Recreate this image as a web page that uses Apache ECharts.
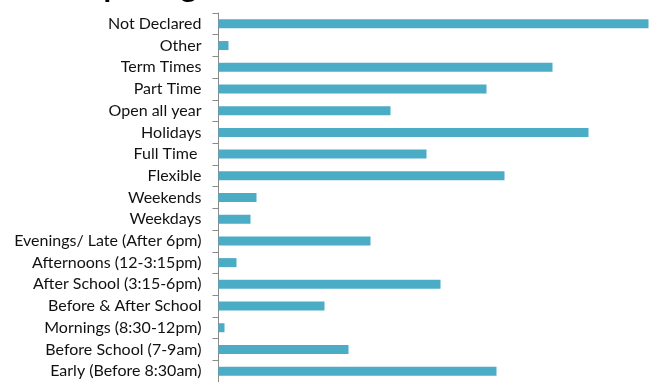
<!DOCTYPE html>
<html>
<head>
<meta charset="utf-8">
<script src="https://cdn.jsdelivr.net/npm/echarts@6/dist/echarts.min.js"></script>
<style>
  html, body { margin: 0; padding: 0; background: #ffffff; }
  #chart { width: 649px; height: 382px; }
</style>
</head>
<body>
<div id="chart"></div>
<script>
// Opening-time categories, listed top to bottom
const categories = [
  'Not Declared', 'Other', 'Term Times', 'Part Time', 'Open all year',
  'Holidays', 'Full Time ', 'Flexible', 'Weekends', 'Weekdays',
  'Evenings/ Late (After 6pm)', 'Afternoons (12-3:15pm)', 'After School (3:15-6pm)',
  'Before & After School', 'Mornings (8:30-12pm)', 'Before School (7-9am)',
  'Early (Before 8:30am)'
];

// Number of providers in each category
const counts = [
  215, 5, 167, 134, 86,
  185, 104, 143, 19, 16,
  76, 9, 111,
  53, 3, 65,
  139
];

const titleText = 'Our Opening Times';

const chart = echarts.init(document.getElementById('chart'), null, { renderer: 'canvas' });

chart.setOption({
  animation: false,
  backgroundColor: '#ffffff',
  graphic: [{
    type: 'text',
    right: 362,
    top: -28.5,
    style: {
      text: titleText,
      font: 'bold 31px Lato',
      fill: '#000000'
    }
  }],
  grid: {
    left: 218.5,
    right: 0.5,
    top: 13,
    height: 371.5,
    containLabel: false
  },
  xAxis: {
    type: 'value',
    min: 0,
    max: 215,
    show: false
  },
  yAxis: {
    type: 'category',
    data: categories,
    inverse: true,
    axisLine: { show: true, lineStyle: { color: '#8a8a8a', width: 1 } },
    axisTick: { show: true, length: 6, lineStyle: { color: '#8a8a8a', width: 1 } },
    axisLabel: {
      margin: 17,
      color: '#111111',
      fontFamily: 'Lato',
      fontSize: 16
    },
    splitLine: { show: false }
  },
  series: [{
    type: 'bar',
    data: counts,
    barWidth: 9,
    itemStyle: { color: '#4bacc6' }
  }]
});
</script>
</body>
</html>
